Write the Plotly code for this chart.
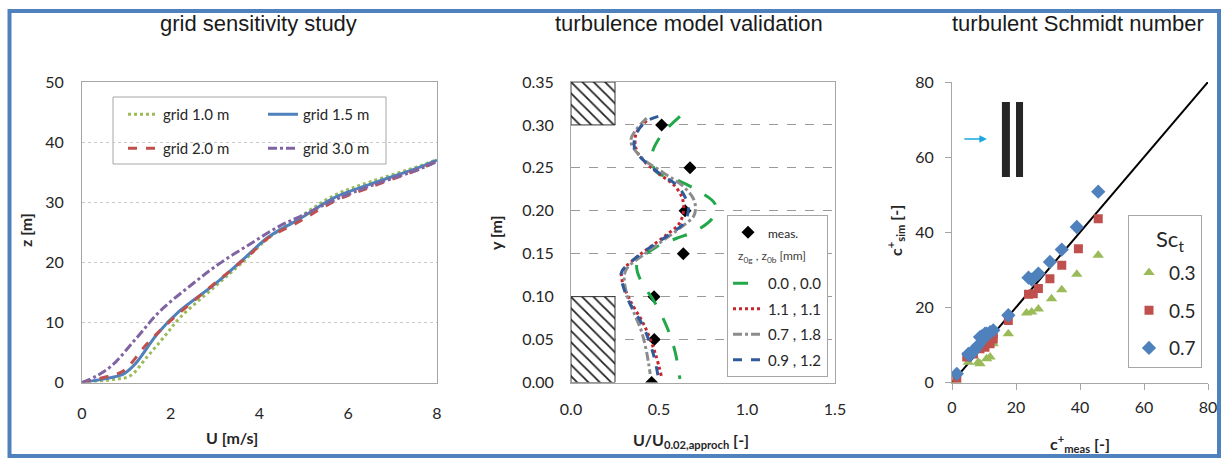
import plotly.graph_objects as go

W, H = 1226, 459

# ---------------- data: grid sensitivity study ----------------
u_grid10 = [0, 0.7, 1.08, 1.46, 1.84, 2.21, 2.97, 3.57, 4.2, 4.9, 5.7, 6.5, 7.6, 8.0]
z_grid10 = [0, 0.5, 1.1, 4.2, 7.5, 10.8, 15.8, 19.7, 24.0, 27.5, 31.2, 33.4, 36.0, 37.1]
u_grid15 = [0, 0.5, 0.93, 1.2, 1.7, 2.2, 3.0, 3.65, 4.2, 4.9, 5.7, 6.5, 7.6, 8.0]
z_grid15 = [0, 0.6, 1.4, 3.1, 8.1, 11.9, 16.4, 20.6, 24.2, 27.2, 30.8, 33.0, 35.8, 37.0]
u_grid20 = [0, 0.63, 0.93, 1.46, 1.91, 2.52, 3.34, 3.8, 4.17, 4.9, 5.7, 6.5, 7.6, 8.0]
z_grid20 = [0, 1.1, 1.9, 6.4, 9.7, 13.6, 18.6, 21.4, 23.9, 26.8, 30.2, 32.5, 35.5, 36.8]
u_grid30 = [0, 0.33, 0.67, 1.24, 1.76, 2.44, 3.08, 3.8, 4.47, 5.0, 5.7, 6.5, 7.6, 8.0]
z_grid30 = [0, 1.1, 2.8, 7.5, 11.9, 16.1, 19.7, 23.1, 26.1, 27.9, 30.4, 32.7, 35.5, 36.8]

# ---------------- data: turbulence model validation ----------------
y_meas = [0.30, 0.25, 0.20, 0.15, 0.10, 0.05, 0.00]
u_meas = [0.515, 0.676, 0.648, 0.638, 0.472, 0.473, 0.458]

y_k00 = [0.310, 0.286, 0.263, 0.245, 0.236, 0.222, 0.208, 0.193, 0.177, 0.168, 0.158, 0.138, 0.117, 0.096, 0.065, 0.037, 0.004]
u_k00 = [0.619, 0.506, 0.458, 0.487, 0.60, 0.733, 0.818, 0.809, 0.714, 0.60, 0.487, 0.375, 0.40, 0.468, 0.544, 0.59, 0.619]
y_k11 = [0.305, 0.29, 0.272, 0.259, 0.243, 0.23, 0.216, 0.201, 0.185, 0.173, 0.16, 0.146, 0.129, 0.119, 0.096, 0.065, 0.033, 0.006]
u_k11 = [0.43, 0.37, 0.37, 0.41, 0.50, 0.585, 0.63, 0.64, 0.615, 0.55, 0.465, 0.373, 0.29, 0.29, 0.335, 0.42, 0.48, 0.515]
y_k07 = [0.308, 0.282, 0.262, 0.245, 0.228, 0.212, 0.195, 0.18, 0.165, 0.15, 0.13, 0.103, 0.08, 0.06, 0.035, 0.01]
u_k07 = [0.43, 0.34, 0.40, 0.52, 0.64, 0.70, 0.70, 0.62, 0.52, 0.42, 0.31, 0.316, 0.36, 0.40, 0.43, 0.45]
y_k09 = [0.310, 0.303, 0.286, 0.271, 0.259, 0.243, 0.230, 0.216, 0.201, 0.185, 0.173, 0.160, 0.146, 0.129, 0.119, 0.096, 0.065, 0.033, 0.006]
u_k09 = [0.496, 0.42, 0.364, 0.364, 0.411, 0.506, 0.60, 0.648, 0.667, 0.638, 0.5625, 0.468, 0.373, 0.288, 0.288, 0.326, 0.411, 0.468, 0.496]

# building blocks (hatched) in the wind-tunnel profile
block_x = [[0, 0.25, 0.25, 0, 0], [0, 0.25, 0.25, 0, 0]]
block_y = [[0.30, 0.30, 0.35, 0.35, 0.30], [0.0, 0.0, 0.10, 0.10, 0.0]]

# ---------------- data: turbulent Schmidt number ----------------
cm_07 = [1.5, 5.1, 5.5, 6.1, 7.0, 8.2, 8.75, 9.3, 9.8, 10.3, 10.8, 11.9, 12.9, 17.6, 23.9, 24.9, 27.0, 30.6, 34.3, 39.0, 45.7]
cs_07 = [2.3, 7.6, 7.2, 8.1, 8.5, 9.9, 12.1, 12.3, 11.6, 13.0, 13.0, 13.4, 13.9, 17.9, 27.9, 27.4, 29.0, 32.1, 35.4, 41.4, 50.8]
cm_05 = [1.5, 4.6, 6.7, 8.75, 10.3, 11.9, 12.9, 12.9, 17.6, 23.9, 25.4, 27.0, 30.6, 34.3, 39.5, 45.7]
cs_05 = [0.5, 6.8, 7.6, 9.0, 9.4, 10.3, 11.6, 13.0, 16.5, 23.5, 23.6, 25.0, 27.6, 31.2, 35.6, 43.6]
cm_03 = [1.5, 5.1, 8.2, 8.75, 10.8, 11.9, 12.9, 17.6, 23.3, 24.9, 27.0, 31.1, 34.3, 39.0, 45.7]
cs_03 = [0.3, 5.4, 5.4, 5.0, 6.3, 6.8, 10.3, 13.0, 18.5, 18.8, 19.6, 22.3, 24.7, 28.8, 33.9]
diag_x = [0, 80]
diag_y = [0, 80]
# sketch of the source (arrow) and two buildings
arrow_x = [3.4, 10.9]
arrow_y = 64.8
bar_x0 = [15.6, 20.0]
bar_x1 = [18.1, 22.2]
bar_y = [54.7, 74.7]


def fx(p):
    return p / W


def fy(p):
    return 1 - p / H


TICKFONT = dict(family="Lato", size=16, color="#262626")
AXC = "#A6A6A6"

fig = go.Figure()

# ---- left panel
left_specs = [
    ("grid 1.0 m", u_grid10, z_grid10, "#9BBB59", "dot", "legend"),
    ("grid 1.5 m", u_grid15, z_grid15, "#4F81BD", "solid", "legend"),
    ("grid 2.0 m", u_grid20, z_grid20, "#C0504D", "dash", "legend4"),
    ("grid 3.0 m", u_grid30, z_grid30, "#8064A2", "dashdot", "legend4"),
]
for name, u, z, col, dash, lg in left_specs:
    fig.add_trace(go.Scatter(x=u, y=z, name=name, mode="lines", line=dict(color=col, width=3, dash=dash, shape="spline"),
                             xaxis="x", yaxis="y", legend=lg))

# ---- middle panel
for bx, by in zip(block_x, block_y):
    fig.add_trace(go.Scatter(x=bx, y=by, mode="lines", fill="toself", fillcolor="white",
                             fillpattern=dict(shape="\\", fgcolor="#222222", bgcolor="white", size=8, solidity=0.22),
                             line=dict(color="#333333", width=1), showlegend=False, hoverinfo="skip",
                             xaxis="x2", yaxis="y2"))

mid_specs = [
    ("0.0 , 0.0", u_k00, y_k00, "#22A84A", "longdash"),
    ("1.1 , 1.1", u_k11, y_k11, "#C8262C", "dot"),
    ("0.7 , 1.8", u_k07, y_k07, "#8C8C8C", "dashdot"),
    ("0.9 , 1.2", u_k09, y_k09, "#2F5B9C", "dash"),
]
fig.add_trace(go.Scatter(x=u_meas, y=y_meas, name="<span style='font-size:12px'>meas.</span>", mode="markers",
                         marker=dict(symbol="diamond", size=10, color="black"),
                         xaxis="x2", yaxis="y2", legend="legend2", legendgroup="m"))
# empty slot in the legend that holds the sub-heading (annotation drawn on top)
fig.add_trace(go.Scatter(x=[None], y=[None], name=" ", mode="lines", line=dict(width=0, color="rgba(0,0,0,0)"),
                         xaxis="x2", yaxis="y2", legend="legend2", legendgroup="h", hoverinfo="skip"))
for name, u, y, col, dash in mid_specs:
    fig.add_trace(go.Scatter(x=u, y=y, name=name, mode="lines", line=dict(color=col, width=3, dash=dash, shape="spline"),
                             xaxis="x2", yaxis="y2", legend="legend2", legendgroup=name))

# ---- right panel
fig.add_trace(go.Scatter(x=diag_x, y=diag_y, mode="lines", line=dict(color="black", width=2),
                         showlegend=False, xaxis="x3", yaxis="y3"))
# empty first slot of the Sc_t legend (heading drawn as annotation)
fig.add_trace(go.Scatter(x=[None], y=[None], name=" ", mode="lines", line=dict(width=0, color="rgba(0,0,0,0)"),
                         xaxis="x3", yaxis="y3", legend="legend3", legendgroup="title", hoverinfo="skip"))
right_specs = [
    ("0.3", cm_03, cs_03, "#9BBB59", "triangle-up", 10),
    ("0.5", cm_05, cs_05, "#C0504D", "square", 9),
    ("0.7", cm_07, cs_07, "#4F81BD", "diamond", 11),
]
for name, xm, ys, col, sym, sz in right_specs:
    fig.add_trace(go.Scatter(x=xm, y=ys, name=name, mode="markers", marker=dict(symbol=sym, size=sz, color=col),
                             xaxis="x3", yaxis="y3", legend="legend3", legendgroup=name))

# ---------------- axes ----------------
ydom = [fy(382.5), fy(82)]
common = dict(showline=True, linecolor=AXC, linewidth=1, zeroline=False, tickfont=TICKFONT, automargin=False)
fig.update_layout(
    xaxis=dict(domain=[fx(82), fx(437)], range=[0, 8], dtick=2, mirror=True, showgrid=False,
               ticks="outside", ticklen=16, tickcolor="rgba(0,0,0,0)", anchor="y", **common),
    yaxis=dict(domain=ydom, range=[0, 50], dtick=10, mirror=True, showgrid=True, gridcolor="#C8C8C8",
               griddash="dot", gridwidth=1, ticks="outside", ticklen=14, tickcolor="rgba(0,0,0,0)", anchor="x", **common),
    xaxis2=dict(domain=[fx(571), fx(835)], range=[0, 1.5], dtick=0.5, tickformat=".1f", mirror=True, showgrid=False,
                ticks="outside", ticklen=12, tickcolor="rgba(0,0,0,0)", anchor="y2", **common),
    yaxis2=dict(domain=ydom, range=[0, 0.35], dtick=0.05, tickformat=".2f", mirror=True, showgrid=True,
                gridcolor="#9A9A9A", griddash="dash", gridwidth=1, ticks="outside", ticklen=13,
                tickcolor="rgba(0,0,0,0)", anchor="x2", **common),
    xaxis3=dict(domain=[fx(952), fx(1208)], range=[0, 80], dtick=20, showgrid=False, ticks="outside", ticklen=6,
                tickcolor=AXC, ticklabelstandoff=4, anchor="y3", **common),
    yaxis3=dict(domain=ydom, range=[0, 80], dtick=20, showgrid=False, ticks="outside", ticklen=6,
                tickcolor=AXC, ticklabelstandoff=8, anchor="x3", **common),
)

# ---------------- legends ----------------
lf = dict(family="Lato", size=15, color="#262626")
fig.update_layout(
    legend=dict(orientation="h", x=fx(123), y=fy(98), xanchor="left", yanchor="top", bgcolor="rgba(0,0,0,0)",
                borderwidth=0, font=lf, entrywidth=95, entrywidthmode="pixels"),
    legend4=dict(orientation="h", x=fx(123), y=fy(132), xanchor="left", yanchor="top", bgcolor="rgba(0,0,0,0)",
                 borderwidth=0, font=lf, entrywidth=95, entrywidthmode="pixels"),
    legend2=dict(x=fx(727), y=fy(215), xanchor="left", yanchor="top", bgcolor="white", bordercolor=AXC,
                 borderwidth=1, font=dict(family="Lato", size=15, color="#262626"), tracegroupgap=3,
                 traceorder="grouped"),
    legend3=dict(x=fx(1128), y=fy(215), xanchor="left", yanchor="top", bgcolor="white", bordercolor=AXC,
                 borderwidth=1, font=dict(family="Lato", size=19, color="#262626"), tracegroupgap=10,
                 itemwidth=30, traceorder="grouped"),
)

# ---------------- annotations ----------------
TF = dict(family="Liberation Sans", size=22, color="#1a1a1a")
AF = dict(family="Lato", size=16, color="#262626")
ann = [
    dict(text="grid sensitivity study", x=fx(258), y=fy(23), font=TF),
    dict(text="turbulence model validation", x=fx(689), y=fy(23), font=TF),
    dict(text="turbulent Schmidt number", x=fx(1078), y=fy(23), font=TF),
    dict(text="<b>U [m/s]</b>", x=fx(232), y=fy(437), font=AF),
    dict(text="<b>z [m]</b>", x=fx(26), y=fy(230), font=AF, textangle=-90),
    dict(text="<b>U/U<sub>0.02,approch</sub> [-]</b>", x=fx(691), y=fy(440), font=AF),
    dict(text="<b>y [m]</b>", x=fx(495), y=fy(233), font=AF, textangle=-90),
    dict(text="<b>c<sup>+</sup><sub>meas</sub> [-]</b>", x=fx(1080), y=fy(443), font=AF),
    dict(text="<b>c<sup>+</sup><sub>sim</sub> [-]</b>", x=fx(895), y=fy(231), font=AF, textangle=-90),
    dict(text="z<sub>0g</sub> , z<sub>0b</sub> [mm]", x=fx(736), y=fy(256), font=dict(family="Lato", size=12, color="#404040"),
         xanchor="left"),
    dict(text="Sc<sub>t</sub>", x=fx(1170), y=fy(240), font=dict(family="Lato", size=22, color="#262626")),
]
for a in ann:
    a.setdefault("xanchor", "center")
    fig.add_annotation(xref="paper", yref="paper", showarrow=False, yanchor="middle", **a)

fig.add_annotation(x=arrow_x[1], y=arrow_y, ax=arrow_x[0], ay=arrow_y, xref="x3", yref="y3", axref="x3", ayref="y3",
                   text="", showarrow=True, arrowhead=2, arrowsize=1, arrowwidth=1.5, arrowcolor="#1BA6E0")

# ---------------- shapes ----------------
for x0, x1 in zip(bar_x0, bar_x1):
    fig.add_shape(type="rect", xref="x3", yref="y3", x0=x0, x1=x1, y0=bar_y[0], y1=bar_y[1],
                  fillcolor="#262626", line=dict(width=0))
# left legend frame
fig.add_shape(type="rect", xref="paper", yref="paper", x0=fx(113), x1=fx(386), y0=fy(164), y1=fy(97),
              fillcolor="white", line=dict(color=AXC, width=1), layer="between")
# outer frame
fig.add_shape(type="rect", xref="paper", yref="paper", x0=fx(9.5), x1=fx(1219), y0=fy(456), y1=fy(11),
              line=dict(color="#4F81BD", width=4), fillcolor="rgba(0,0,0,0)")

fig.update_layout(width=W, height=H, margin=dict(l=0, r=0, t=0, b=0, pad=0, autoexpand=False),
                  paper_bgcolor="white", plot_bgcolor="white", showlegend=True, template="none")

fig.write_html("out.html")
